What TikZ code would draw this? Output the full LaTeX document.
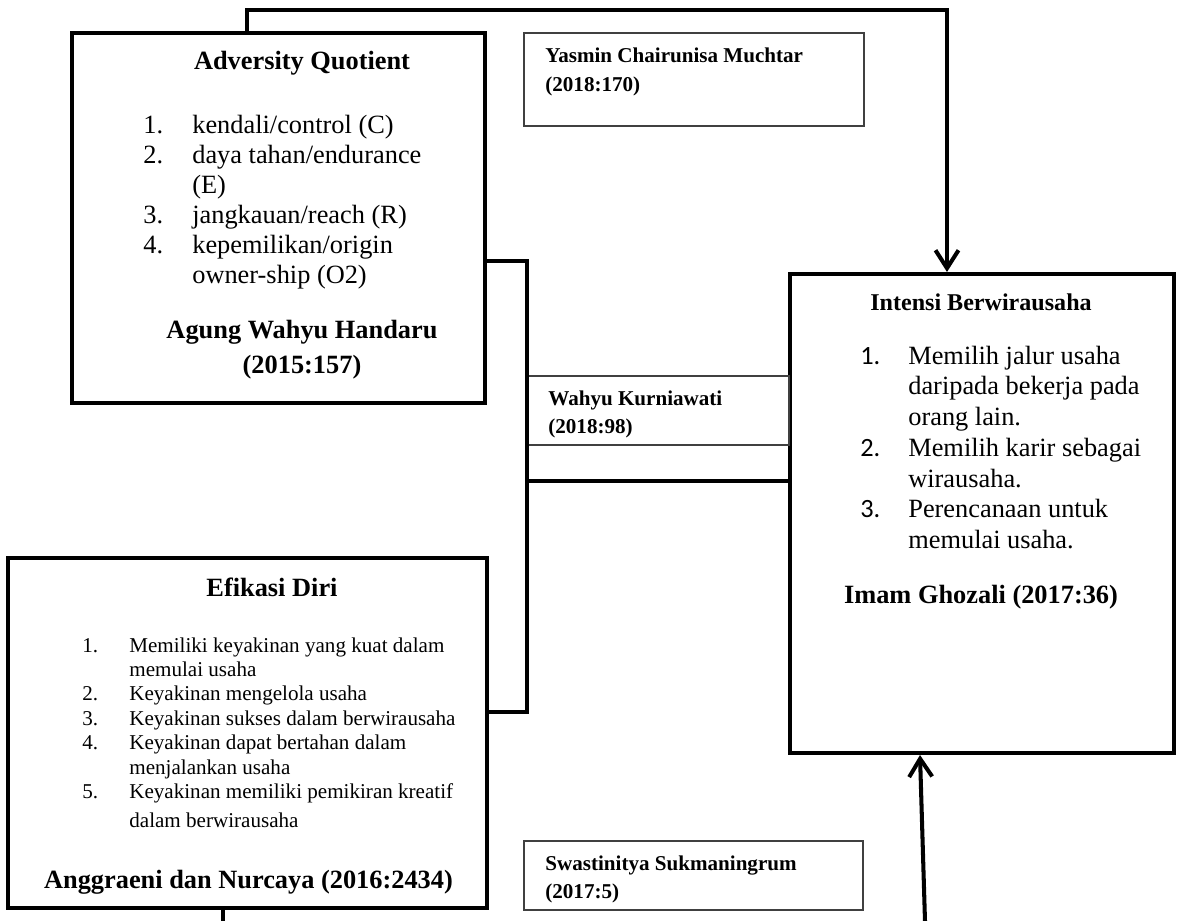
\documentclass[tikz,border=0pt]{standalone}
\usepackage{fontspec}
\setmainfont{Liberation Serif}
\newfontfamily\numfont{Carlito}
\usetikzlibrary{arrows.meta}

\begin{document}
\begin{tikzpicture}[
    varbox/.style={draw, line width=2.3pt, inner sep=0pt},
    refbox/.style={draw=black!75, line width=0.6pt, inner sep=0pt},
    vartitle/.style={font=\bfseries\fontsize{15pt}{18pt}\selectfont, inner sep=0pt},
    varref/.style={font=\bfseries\fontsize{15pt}{19.4pt}\selectfont, inner sep=0pt, anchor=base},
    itemlist/.style={inner sep=0pt, anchor=base west},
    refnote/.style={font=\bfseries\fontsize{12pt}{16pt}\selectfont, inner sep=0pt, anchor=base west},
    link/.style={line width=2.3pt},
    >={Straight Barb[length=3.6mm,width=4.6mm]},
]
    \useasboundingbox (0,0) rectangle (23.54,-18.42);

    \node[varbox, minimum width=8.26cm, minimum height=7.4cm] (aq) at (5.57,-4.36) {};
    \node[vartitle] (aqtitle) at (6.04,-1.26) {Adversity Quotient};
    \node[itemlist, font=\fontsize{15pt}{17pt}\selectfont] (aqlist) at (2.86,-2.68) {\begin{tabular}[t]{@{}p{0.98cm}@{}l@{}}
        1. & kendali/control (C)\\
        2. & daya tahan/endurance\\
           & (E)\\
        3. & jangkauan/reach (R)\\
        4. & kepemilikan/origin\\
           & owner-ship (O2)
    \end{tabular}};
    \node[varref] (aqref) at (6.04,-6.78) {\begin{tabular}[t]{@{}c@{}}Agung Wahyu Handaru\\(2015:157)\end{tabular}};

    \node[varbox, minimum width=7.68cm, minimum height=9.58cm] (intent) at (19.64,-10.27) {};
    \node[vartitle, font=\bfseries\fontsize{13.7pt}{16pt}\selectfont] (intenttitle) at (19.62,-6.04) {Intensi Berwirausaha};
    \node[itemlist, font=\fontsize{15pt}{17.5pt}\selectfont] (intentlist) at (17.2,-7.28) {\begin{tabular}[t]{@{}p{0.96cm}@{}l@{}}
        \numfont 1. & Memilih jalur usaha\\
           & daripada bekerja pada\\
           & orang lain.\\
        \numfont 2. & Memilih karir sebagai\\
           & wirausaha.\\
        \numfont 3. & Perencanaan untuk\\
           & memulai usaha.
    \end{tabular}};
    \node[varref] (intentref) at (19.62,-12.06) {Imam Ghozali (2017:36)};

    \node[varbox, minimum width=9.58cm, minimum height=7.0cm] (ed) at (4.95,-14.66) {};
    \node[vartitle] (edtitle) at (5.44,-11.74) {Efikasi Diri};
    \node[itemlist, font=\fontsize{12pt}{13.9pt}\selectfont] (edlist) at (1.64,-13.04) {\begin{tabular}[t]{@{}p{0.94cm}@{}l@{}}
        1. & Memiliki keyakinan yang kuat dalam\\
           & memulai usaha\\
        2. & Keyakinan mengelola usaha\\
        3. & Keyakinan sukses dalam berwirausaha\\
        4. & Keyakinan dapat bertahan dalam\\
           & menjalankan usaha\\
        5. & Keyakinan memiliki pemikiran kreatif\\[2.3pt]
           & dalam berwirausaha
    \end{tabular}};
    \node[varref] (edref) at (4.97,-17.76) {Anggraeni dan Nurcaya (2016:2434)};

    \node[refbox, minimum width=6.8cm, minimum height=1.86cm] (yasmin) at (13.88,-1.59) {};
    \node[refnote] (yasmintxt) at (10.9,-1.26) {\begin{tabular}[t]{@{}l@{}}Yasmin Chairunisa Muchtar\\(2018:170)\end{tabular}};
    \node[refbox, minimum width=5.24cm, minimum height=1.38cm] (wahyu) at (13.16,-8.21) {};
    \node[refnote] (wahyutxt) at (10.96,-8.10) {\begin{tabular}[t]{@{}l@{}}Wahyu Kurniawati\\(2018:98)\end{tabular}};
    \node[refbox, minimum width=6.78cm, minimum height=1.38cm] (swast) at (13.87,-17.51) {};
    \node[refnote] (swasttxt) at (10.9,-17.4) {\begin{tabular}[t]{@{}l@{}}Swastinitya Sukmaningrum\\(2017:5)\end{tabular}};

    \coordinate (aqup) at (4.94,-0.2);
    \coordinate (inup) at (18.94,-0.2);
    \draw[link, ->] (aq.north -| aqup) -- (aqup) -- (inup) -- (inup |- intent.north);

    \coordinate (jtop) at (10.54,-5.22);
    \coordinate (jmid) at (10.54,-9.62);
    \coordinate (jbot) at (10.54,-14.24);
    \draw[link] (aq.east |- jtop) -- (jtop) -- (jbot) -- (ed.east |- jbot);
    \draw[link] (jmid) -- (intent.west |- jmid);

    \coordinate (edout) at (4.46,-18.42);
    \draw[link] (ed.south -| edout) -- (edout);

    \coordinate (swin) at (18.5,-18.42);
    \coordinate (inlow) at (18.4,0);
    \draw[link, ->] (swin) -- (inlow |- intent.south);
\end{tikzpicture}
\end{document}
